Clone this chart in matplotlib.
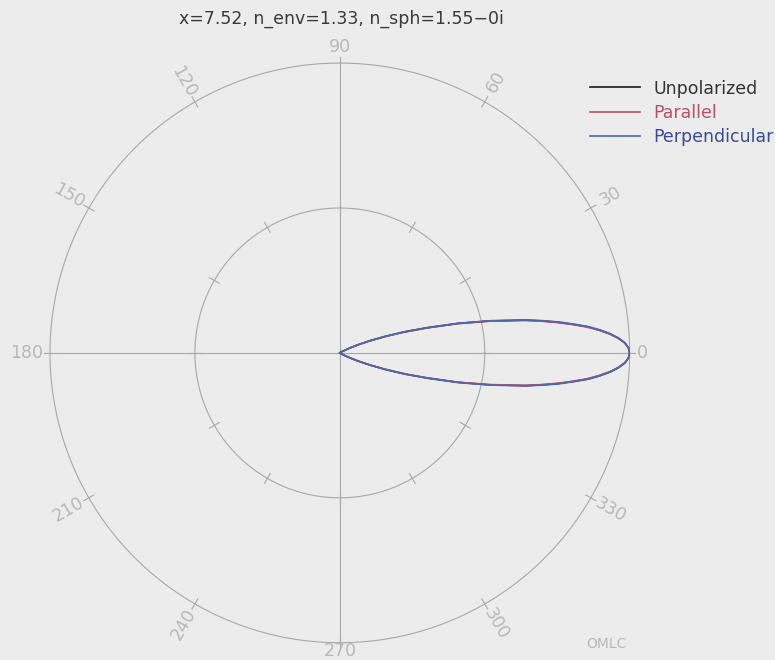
import numpy as np
import matplotlib
matplotlib.use('Agg')
import matplotlib.pyplot as plt

angle_deg = [0, 1, 2, 3, 4, 5, 6, 7, 8, 9, 10, 12, 14, 16, 18, 20, 22, 24, 26, 28, 30, 35, 40, 60, 90, 120, 150, 180]
unpolarized = [1.00, 0.996, 0.984, 0.963, 0.935, 0.90, 0.86, 0.81, 0.76, 0.705, 0.65, 0.53, 0.42, 0.315, 0.235, 0.165, 0.11, 0.07, 0.04, 0.02, 0.01, 0.005, 0.0, 0.0, 0.0, 0.0, 0.0, 0.0]
parallel = [1.00, 0.996, 0.984, 0.962, 0.933, 0.897, 0.856, 0.806, 0.755, 0.70, 0.645, 0.525, 0.415, 0.31, 0.23, 0.16, 0.105, 0.066, 0.037, 0.018, 0.008, 0.004, 0.0, 0.0, 0.0, 0.0, 0.0, 0.0]
perpendicular = [1.00, 0.996, 0.984, 0.964, 0.937, 0.903, 0.864, 0.814, 0.765, 0.71, 0.655, 0.535, 0.425, 0.32, 0.24, 0.17, 0.115, 0.074, 0.043, 0.022, 0.012, 0.006, 0.0, 0.0, 0.0, 0.0, 0.0, 0.0]

series_names = ['Unpolarized', 'Parallel', 'Perpendicular']
line_colors = ['#1a1a1a', '#c0506a', '#4868b0']
text_colors = ['#333333', '#b85068', '#3a4a9a']
tick_angles = [0, 30, 60, 90, 120, 150, 180, 210, 240, 270, 300, 330]
ring_radii = [0.5, 1.0]

title = 'x=7.52, n_env=1.33, n_sph=1.55\u22120i'

bg = '#ececec'
grid_col = '#a8a8a8'
lab_col = '#b8b8b8'

fig = plt.figure(figsize=(7.75, 6.6), dpi=100, facecolor=bg)
ax = fig.add_axes([0.0645, 0.0258, 0.748, 0.879], projection='polar')
ax.set_facecolor('none')
ax.grid(False)
ax.spines['polar'].set_visible(False)
ax.set_xticks([])
ax.set_yticks([])
ax.set_ylim(0, 1)

# rings and crosshair
full = np.linspace(0, 2 * np.pi, 400)
for r in ring_radii:
    ax.plot(full, np.full_like(full, r), color=grid_col, lw=0.8, clip_on=False)
for t in [0, 90, 180, 270]:
    ax.plot([np.radians(t)] * 2, [0, 1], color=grid_col, lw=0.8)

# small ticks on rings
for r in ring_radii:
    for t in tick_angles:
        ax.plot([np.radians(t)] * 2, [r - 0.02, r + 0.02], color=grid_col, lw=0.8, clip_on=False)

# angle labels
fs = 12.5
for t in tick_angles:
    th = np.radians(t)
    if t == 0:
        ax.text(th, 1.025, '0', ha='left', va='center', color=lab_col, fontsize=fs)
    elif t == 180:
        ax.text(th, 1.025, '180', ha='right', va='center', color=lab_col, fontsize=fs)
    elif t == 90:
        ax.text(th, 1.055, '90', ha='center', va='center', color=lab_col, fontsize=fs)
    elif t == 270:
        ax.text(th, 1.03, '270', ha='center', va='center', color=lab_col, fontsize=fs)
    else:
        rot = t
        while rot > 90:
            rot -= 180
        ax.text(th, 1.08, str(t), ha='center', va='center', rotation=rot,
                rotation_mode='anchor', color=lab_col, fontsize=fs)

# mirror the curves to both sides of the forward direction
th_data = np.radians(angle_deg)
theta = np.concatenate([-th_data[::-1], th_data[1:]])
for vals, name, col in zip([unpolarized, parallel, perpendicular], series_names, line_colors):
    v = np.array(vals)
    r = np.concatenate([v[::-1], v[1:]])
    ax.plot(theta, r, color=col, lw=1.2, label=name)

fig.text(0.44, 0.972, title, ha='center', va='center', fontsize=12.5, color='#3a3a3a')
fig.text(0.782, 0.025, 'OMLC', ha='center', va='center', fontsize=10, color='#b8b8b8')

fig.legend(loc='upper right', bbox_to_anchor=(1.007, 0.890), frameon=False,
           handlelength=2.9, handletextpad=0.75, labelspacing=0.36,
           labelcolor=text_colors, prop={'size': 12.5}, borderaxespad=0)

fig.savefig('out.png', dpi=100, facecolor=bg)
